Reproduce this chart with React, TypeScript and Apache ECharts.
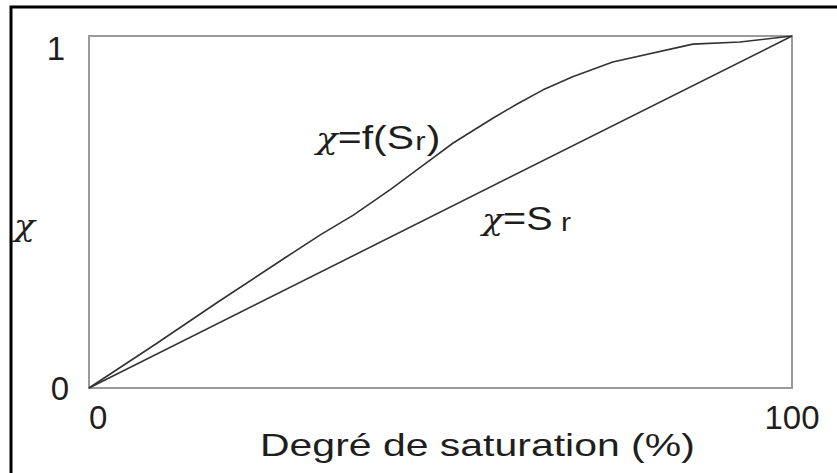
import React, { useEffect, useRef } from "react";
import * as echarts from "echarts";

// Degree of saturation (%) and the corresponding χ values of the f(Sr) curve
const saturation = [0, 9.5, 18.4, 27.9, 32.9, 37.6, 42.8, 48.9, 51.8, 57.5, 60.9, 64.6, 68.8, 74.5, 85.9, 92.6, 100];
const chiCurve = [0, 0.125, 0.245, 0.37, 0.435, 0.491, 0.563, 0.653, 0.696, 0.767, 0.807, 0.847, 0.884, 0.926, 0.977, 0.983, 1];

// Reference line χ = Sr
const linearSaturation = [0, 100];
const linearChi = [0, 1];

// Axis ranges
const xRange = [0, 100];
const yRange = [0, 1];

const sans = "Liberation Sans";
const serif = "DejaVu Serif";
const ink = "#1e1e1e";
const lineInk = "#333333";

export default function App() {
  const ref = useRef<HTMLDivElement>(null);

  useEffect(() => {
    document.body.style.margin = "0";
    const chart = echarts.init(ref.current!, null, { renderer: "svg" });

    const chi = { fontFamily: serif, fontStyle: "italic", fontSize: 29, fill: ink, color: ink, verticalAlign: "bottom" };
    const txt = { fontFamily: sans, fontSize: 33, fill: ink, color: ink, verticalAlign: "bottom" };
    const sub = { fontFamily: sans, fontSize: 25, fill: ink, color: ink, verticalAlign: "bottom" };

    chart.setOption({
      animation: false,
      backgroundColor: "#ffffff",
      grid: {
        left: 89,
        right: 45,
        top: 36,
        bottom: 85,
        show: true,
        borderColor: "#9a9a9a",
        borderWidth: 2,
        backgroundColor: "transparent",
        containLabel: false,
        outerBoundsMode: "none",
      },
      xAxis: {
        type: "value",
        min: xRange[0],
        max: xRange[1],
        interval: 100,
        axisLine: { show: false },
        axisTick: { show: false },
        splitLine: { show: false },
        axisLabel: {
          fontFamily: sans,
          fontSize: 33,
          color: ink,
          margin: 13,
          alignMinLabel: "left",
          alignMaxLabel: "center",
          showMinLabel: true,
          showMaxLabel: true,
        },
      },
      yAxis: {
        type: "value",
        min: yRange[0],
        max: yRange[1],
        interval: 1,
        axisLine: { show: false },
        axisTick: { show: false },
        splitLine: { show: false },
        axisLabel: {
          margin: 20,
          formatter: (v: number) => (v === 1 ? "{one|1}" : "{zero|0}"),
          rich: {
            one: { fontFamily: sans, fontSize: 33, color: ink, padding: [24, 4, 0, 0] },
            zero: { fontFamily: sans, fontSize: 33, color: ink },
          },
        },
      },
      series: [
        {
          type: "line",
          data: saturation.map((s, i) => [s, chiCurve[i]]),
          showSymbol: false,
          silent: true,
          lineStyle: { color: lineInk, width: 1.6 },
        },
        {
          type: "line",
          data: linearSaturation.map((s, i) => [s, linearChi[i]]),
          showSymbol: false,
          silent: true,
          lineStyle: { color: lineInk, width: 1.6 },
        },
      ],
      graphic: [
        // frame around the figure
        {
          type: "rect",
          shape: { x: 11, y: 7, width: 900, height: 600 },
          style: { fill: "none", stroke: "#000", lineWidth: 3 },
          silent: true,
        },
        // y-axis name
        {
          type: "text",
          x: 14,
          y: 241,
          scaleX: 1.15,
          style: {
            text: "χ",
            fontFamily: serif,
            fontStyle: "italic",
            fontSize: 30,
            fill: ink,
            align: "left",
            verticalAlign: "bottom",
          },
        },
        // x-axis name
        {
          type: "text",
          x: 260,
          y: 445,
          scaleX: 1.28,
          style: {
            text: "Degré de saturation (%)",
            fontFamily: sans,
            fontSize: 32,
            fill: ink,
            align: "left",
            verticalAlign: "middle",
          },
        },
        // curve label
        {
          type: "text",
          x: 316,
          y: 154,
          scaleX: 1.24,
          style: {
            text: "{c|χ}{t|=f(S}{s|r}{t|)}",
            align: "left",
            verticalAlign: "bottom",
            rich: {
              c: chi,
              t: txt,
              s: { ...sub, padding: [0, 1, 0, 1] },
            },
          },
        },
        // straight-line label
        {
          type: "text",
          x: 482,
          y: 235,
          scaleX: 1.2,
          style: {
            text: "{c|χ}{t|=S}{s|r}",
            align: "left",
            verticalAlign: "bottom",
            rich: {
              c: chi,
              t: txt,
              s: { ...sub, padding: [0, 0, 0, 7] },
            },
          },
        },
      ],
    });

    return () => chart.dispose();
  }, []);

  return (
    <div
      ref={ref}
      style={{ position: "absolute", left: 0, top: 0, width: 837, height: 473, background: "#fff" }}
    />
  );
}
